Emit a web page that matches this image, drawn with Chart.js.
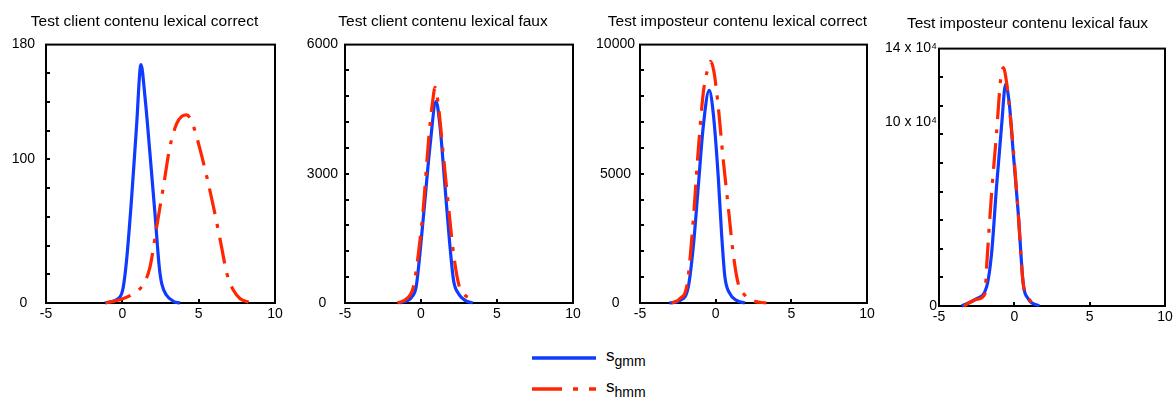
<!DOCTYPE html>
<html lang="fr">
<head>
    <meta charset="UTF-8">
    <title>Distribution des scores</title>
    <script src="https://cdn.jsdelivr.net/npm/chart.js@4.4.1/dist/chart.umd.min.js"></script>
    <style>
        body { margin: 0; background: #fff; width: 1176px; height: 401px; overflow: hidden; position: relative; font-family: "Liberation Sans", Arial, Helvetica, sans-serif; }
        canvas { position: absolute; top: 0; }
        .legend-row { position: absolute; left: 530px; height: 24px; }
        .legend-row svg { position: absolute; left: 0; top: 0; }
        .legend-row span { position: absolute; left: 76px; font-size: 17px; line-height: 20px; color: #000; }
        .legend-row sub { font-size: 14px; vertical-align: -5px; }
    </style>
</head>
<body>
    <canvas id="c1" width="289" height="330" style="left:0px"></canvas>
    <canvas id="c2" width="288" height="330" style="left:299px"></canvas>
    <canvas id="c3" width="287" height="330" style="left:594px"></canvas>
    <canvas id="c4" width="297" height="330" style="left:879px"></canvas>

    <div class="legend-row" style="top:346px">
        <svg width="70" height="24"><line x1="2" y1="12" x2="66" y2="12" stroke="#0f3bff" stroke-width="3.5"/></svg>
        <span style="top:0px">s<sub>gmm</sub></span>
    </div>
    <div class="legend-row" style="top:377px">
        <svg width="70" height="24"><line x1="2" y1="12" x2="66" y2="12" stroke="#ff2600" stroke-width="3.5" stroke-dasharray="30 11 5 11"/></svg>
        <span style="top:0px">s<sub>hmm</sub></span>
    </div>

    <script>
        const BLUE = '#0f3bff';
        const RED = '#ff2600';

        const xLabels = [-5, 0, 5, 10];
        const xMinor = [0, 5];

        // Test client contenu lexical correct
        const p1GmmX = [-1.15, -0.16, 0.06, 0.28, 0.6, 0.93, 1.22, 1.48, 1.81, 2.14, 2.42, 2.58, 2.9, 3.34, 3.78];
        const p1GmmY = [0, 4.2, 11, 30, 72, 123, 166, 144, 104, 62, 25, 13.5, 5.4, 1.2, 0];
        const p1HmmX = [-1.08, -0.16, 0.71, 1.37, 1.81, 2.25, 2.69, 3.12, 3.56, 3.89, 4.22, 4.66, 5.09, 5.53, 5.97, 6.41, 6.85, 7.28, 7.72, 8.27];
        const p1HmmY = [0.2, 2.3, 6.5, 13, 25, 53, 81, 109, 125, 130, 131, 123, 107, 88, 67, 44, 20.5, 8.8, 3, 0.5];
        const p1YLabels = [0, 100, 180];
        const p1YMinor = [20, 40, 60, 80, 100, 120, 140, 160];

        // Test client contenu lexical faux
        const p2GmmX = [-1.38, -0.61, -0.32, -0.07, 0.26, 0.59, 0.99, 1.25, 1.58, 1.87, 2.14, 2.47, 2.9, 3.41];
        const p2GmmY = [0, 140, 373, 1150, 2390, 3630, 4680, 4100, 2700, 1460, 530, 217, 62, 0];
        const p2HmmX = [-1.55, -0.94, -0.5, -0.17, 0.16, 0.5, 0.78, 0.93, 1.15, 1.48, 1.81, 2.14, 2.47, 2.8, 3.4];
        const p2HmmY = [0, 100, 373, 1150, 2240, 3790, 4720, 5010, 4560, 3400, 2240, 1150, 450, 217, 85];
        const p2YLabels = [0, 3000, 6000];
        const p2YMinor = [600, 1200, 1800, 2400, 3000, 3600, 4200, 4800, 5400];

        // Test imposteur contenu lexical correct
        const p3GmmX = [-3.06, -2.36, -1.81, -1.48, -1.15, -0.82, -0.43, -0.16, 0.17, 0.39, 0.61, 0.94, 1.38, 1.93];
        const p3GmmY = [0, 100, 620, 2170, 4500, 6830, 8230, 7350, 4890, 2690, 1010, 360, 100, 0];
        const p3HmmX = [-2.9, -2.36, -1.88, -1.48, -1.15, -0.82, -0.54, -0.34, -0.12, 0.17, 0.5, 0.83, 1.16, 1.49, 1.93, 2.37, 3.36];
        const p3HmmY = [0, 170, 750, 3210, 5920, 8120, 9030, 9350, 8970, 7610, 5540, 3730, 1910, 750, 300, 100, 0];
        const p3YLabels = [0, 5000, 10000];
        const p3YMinor = [1000, 2000, 3000, 4000, 5000, 6000, 7000, 8000, 9000];

        // Test imposteur contenu lexical faux
        const p4GmmX = [-3.5, -2.5, -1.84, -1.51, -1.18, -0.85, -0.58, -0.34, -0.07, 0.26, 0.59, 0.92, 1.65];
        const p4GmmY = [0, 4000, 10400, 28600, 65000, 97700, 120500, 110500, 83200, 50400, 12200, 4000, 0];
        const p4HmmX = [-3.34, -2.5, -1.95, -1.84, -1.51, -1.18, -0.91, -0.73, -0.51, -0.29, -0.03, 0.26, 0.59, 1.03, 1.69];
        const p4HmmY = [0, 3640, 6700, 21300, 61300, 94100, 123200, 129600, 121400, 105000, 81400, 50400, 12200, 3100, 0];
        const p4YLabels = [0, 100000, 140000];
        const p4YMinor = [15556, 31111, 46667, 62222, 77778, 93333, 108889, 124444];

        const toPoints = (xs, ys) => xs.map((x, i) => ({ x: x, y: ys[i] }));

        // black frame + small inward tick marks
        const framePlugin = {
            id: 'frame',
            beforeDatasetsDraw(chart, args, opts) {
                const { ctx, chartArea: a, scales } = chart;
                ctx.save();
                ctx.strokeStyle = '#000';
                ctx.lineWidth = 2;
                ctx.strokeRect(a.left, a.top, a.right - a.left, a.bottom - a.top);
                ctx.beginPath();
                opts.y.forEach(v => {
                    const py = Math.round(scales.y.getPixelForValue(v));
                    ctx.moveTo(a.left, py);
                    ctx.lineTo(a.left + 4, py);
                });
                opts.x.forEach(v => {
                    const px = Math.round(scales.x.getPixelForValue(v));
                    ctx.moveTo(px, a.bottom);
                    ctx.lineTo(px, a.bottom - 4);
                });
                ctx.stroke();
                ctx.restore();
            }
        };

        const makeChart = (id, cfg) => {
            new Chart(document.getElementById(id), {
                type: 'line',
                data: {
                    datasets: [
                        {
                            label: 'shmm',
                            data: toPoints(cfg.hmmX, cfg.hmmY),
                            borderColor: RED,
                            borderWidth: 3.2,
                            borderDash: [26, 10, 4, 10],
                            pointRadius: 0,
                            cubicInterpolationMode: 'monotone',
                            clip: 4
                        },
                        {
                            label: 'sgmm',
                            data: toPoints(cfg.gmmX, cfg.gmmY),
                            borderColor: BLUE,
                            borderWidth: 3.2,
                            pointRadius: 0,
                            cubicInterpolationMode: 'monotone',
                            clip: 4
                        }
                    ]
                },
                options: {
                    responsive: false,
                    animation: false,
                    layout: { padding: 0 },
                    plugins: {
                        legend: { display: false },
                        tooltip: { enabled: false },
                        title: {
                            display: true,
                            text: cfg.title,
                            color: '#000',
                            font: { family: '"Liberation Sans", Arial, sans-serif', size: 15.5, weight: 'normal' },
                            padding: { top: cfg.titleTop, bottom: cfg.titleBottom }
                        },
                        frame: { x: xMinor, y: cfg.yMinor }
                    },
                    scales: {
                        x: {
                            type: 'linear',
                            min: -5,
                            max: 10,
                            grid: { display: false, drawTicks: false },
                            border: { display: false },
                            afterBuildTicks: s => { s.ticks = xLabels.map(v => ({ value: v })); },
                            afterFit: s => { s.height = cfg.xHeight; s.paddingLeft = 0; s.paddingRight = cfg.rightPad; },
                            ticks: {
                                color: '#000',
                                padding: 3,
                                maxRotation: 0,
                                font: { family: '"Liberation Sans", Arial, sans-serif', size: 14 },
                                callback: v => String(v)
                            }
                        },
                        y: {
                            min: 0,
                            max: cfg.yMax,
                            grid: { display: false, drawTicks: false },
                            border: { display: false },
                            afterBuildTicks: s => { s.ticks = cfg.yLabels.map(v => ({ value: v })); },
                            afterFit: s => { s.width = cfg.yWidth; },
                            ticks: {
                                color: '#000',
                                padding: cfg.yPad,
                                crossAlign: cfg.yAlign,
                                font: { family: '"Liberation Sans", Arial, sans-serif', size: 14 },
                                callback: cfg.yFormat
                            }
                        }
                    }
                },
                plugins: [framePlugin]
            });
        };

        const plain = v => String(v);

        document.addEventListener('DOMContentLoaded', () => {
            makeChart('c1', {
                title: 'Test client contenu lexical correct',
                gmmX: p1GmmX, gmmY: p1GmmY, hmmX: p1HmmX, hmmY: p1HmmY,
                yMax: 180, yLabels: p1YLabels, yMinor: p1YMinor, yFormat: plain,
                yWidth: 46, yPad: 11, yAlign: 'center', rightPad: 14,
                titleTop: 12, titleBottom: 14, xHeight: 27
            });
            makeChart('c2', {
                title: 'Test client contenu lexical faux',
                gmmX: p2GmmX, gmmY: p2GmmY, hmmX: p2HmmX, hmmY: p2HmmY,
                yMax: 6000, yLabels: p2YLabels, yMinor: p2YMinor, yFormat: plain,
                yWidth: 46, yPad: 7, yAlign: 'center', rightPad: 14,
                titleTop: 12, titleBottom: 14, xHeight: 27
            });
            makeChart('c3', {
                title: 'Test imposteur contenu lexical correct',
                gmmX: p3GmmX, gmmY: p3GmmY, hmmX: p3HmmX, hmmY: p3HmmY,
                yMax: 10000, yLabels: p3YLabels, yMinor: p3YMinor, yFormat: plain,
                yWidth: 46, yPad: 5, yAlign: 'center', rightPad: 14,
                titleTop: 12, titleBottom: 14, xHeight: 27
            });
            makeChart('c4', {
                title: 'Test imposteur contenu lexical faux',
                gmmX: p4GmmX, gmmY: p4GmmY, hmmX: p4HmmX, hmmY: p4HmmY,
                yMax: 140000, yLabels: p4YLabels, yMinor: p4YMinor,
                yFormat: v => v === 0 ? '0' : (v / 10000) + ' x 10\u2074',
                yWidth: 60, yPad: 2, yAlign: 'near', rightPad: 11,
                titleTop: 14, titleBottom: 16, xHeight: 24
            });
        });
    </script>
</body>
</html>
